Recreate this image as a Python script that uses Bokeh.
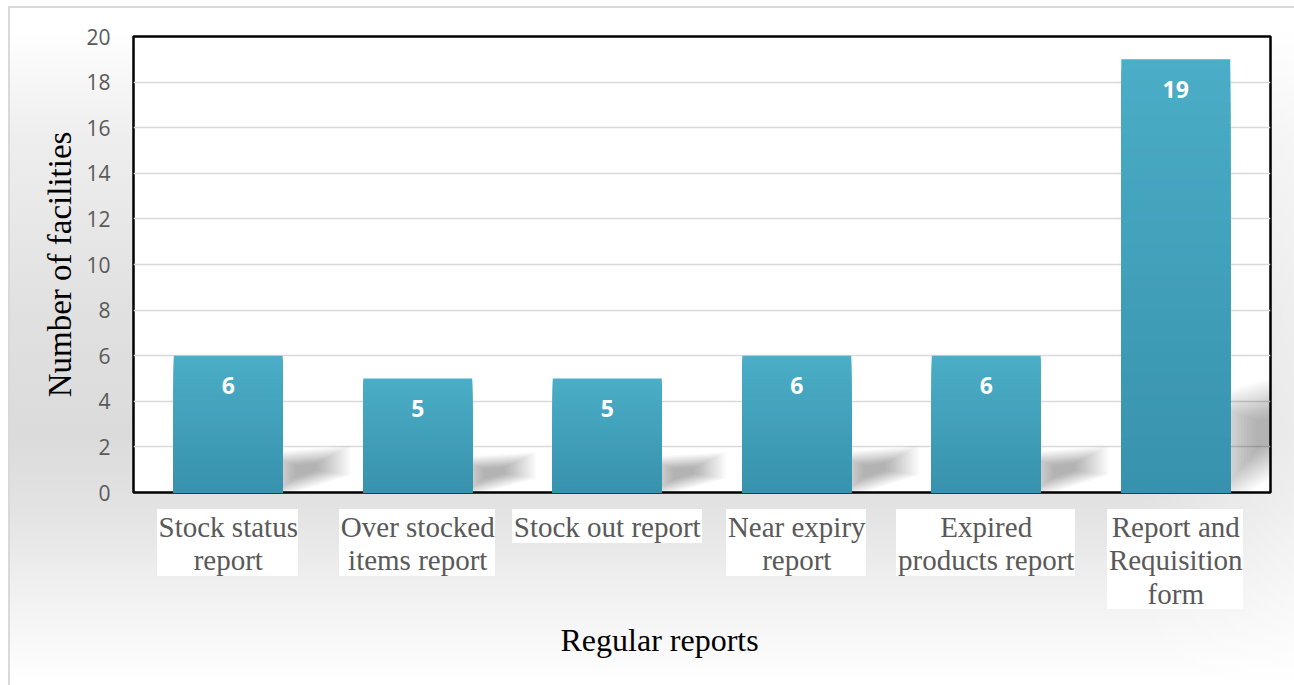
import numpy as np
from bokeh.plotting import figure
from bokeh.models import ColumnDataSource, Range1d, FixedTicker, LabelSet, Title
from bokeh.core.properties import value
from bokeh.embed import file_html
from bokeh.resources import INLINE

# ---- data -------------------------------------------------------------
categories = [
    "Stock status report",
    "Over stocked items report",
    "Stock out report",
    "Near expiry report",
    "Expired products report",
    "Report and Requisition form",
]
tick_labels = [
    "Stock status\nreport",
    "Over stocked\nitems report",
    "Stock out report",
    "Near expiry\nreport",
    "Expired\nproducts report",
    "Report and\nRequisition\nform",
]
facilities = [6, 5, 5, 6, 6, 19]
y_ticks = [0, 2, 4, 6, 8, 10, 12, 14, 16, 18, 20]

# ---- styling ----------------------------------------------------------
W, H = 1294, 685
BORDER_L, BORDER_R, BORDER_T, BORDER_B = 133, 24, 36, 193
FRAME_W = W - BORDER_L - BORDER_R
FRAME_H = H - BORDER_T - BORDER_B
BAR_WIDTH = 0.575
TOP_RGB = np.array([0x4B, 0xAD, 0xC7])
BOTTOM_RGB = np.array([0x37, 0x92, 0xAD])
N_SLICES = 40
# white panels behind the category labels (pixel widths, line height)
LABEL_BOX_W = [141, 156, 190, 140, 179, 136]
LABEL_LINE_PX = 33.5
LABEL_BOX_GAP = 17

x_pos = [i + 0.5 for i in range(len(categories))]
x_max = len(categories)
y_max = 20

# page background: thin outer border, soft grey haze, white label panels
layers = []
for xc, lab, bw in zip(x_pos, tick_labels, LABEL_BOX_W):
    n_lines = lab.count("\n") + 1
    left = BORDER_L + xc / x_max * FRAME_W - bw / 2
    top = H - BORDER_B + LABEL_BOX_GAP
    layers.append(
        "linear-gradient(#ffffff,#ffffff) %.0fpx %.0fpx / %.0fpx %.0fpx no-repeat"
        % (left, top, bw, n_lines * LABEL_LINE_PX)
    )
layers += [
    "linear-gradient(#d9d9d9,#d9d9d9) 8px 6px / 100% 2px no-repeat",
    "linear-gradient(#d9d9d9,#d9d9d9) 8px 6px / 2px 100% no-repeat",
    "linear-gradient(to left, rgba(255,255,255,0.45) 0%, rgba(255,255,255,0) 12%) "
    "10px 8px / calc(100% - 10px) calc(100% - 8px) no-repeat",
    "linear-gradient(to bottom, #ffffff 3%, #eeeeee 19%, #e1e1e1 44%, "
    "#dbdbdb 63%, #e3e3e3 74%, #efefef 85%, #fbfbfb 96%, #ffffff 100%) "
    "10px 8px / calc(100% - 10px) calc(100% - 8px) no-repeat",
    "#ffffff",
]

p = figure(
    width=W,
    height=H,
    x_range=Range1d(0, x_max),
    y_range=Range1d(0, y_max),
    output_backend="svg",
    toolbar_location=None,
    min_border_left=BORDER_L,
    min_border_right=BORDER_R,
    min_border_top=BORDER_T,
    min_border_bottom=BORDER_B,
)
p.background_fill_color = "white"
p.border_fill_alpha = 0.0
p.outline_line_color = "black"
p.outline_line_width = 2.5
p.styles = {"background": ", ".join(layers)}

# grid
p.xgrid.grid_line_color = None
p.ygrid.grid_line_color = "#d9d9d9"
p.ygrid.grid_line_width = 1.5
p.ygrid.ticker = FixedTicker(ticks=y_ticks)

# y axis
p.yaxis.ticker = FixedTicker(ticks=y_ticks)
p.yaxis.axis_line_color = None
p.yaxis.major_tick_line_color = None
p.yaxis.minor_tick_line_color = None
p.yaxis.major_label_text_font = "Open Sans"
p.yaxis.major_label_text_font_size = "21px"
p.yaxis.major_label_text_color = "#595959"
p.yaxis.major_label_standoff = 17
p.yaxis.axis_label = "Number of facilities"
p.yaxis.axis_label_text_font = "Liberation Serif"
p.yaxis.axis_label_text_font_size = "33px"
p.yaxis.axis_label_text_font_style = "normal"
p.yaxis.axis_label_text_color = "black"
p.yaxis.axis_label_standoff = 5

# x axis
p.xaxis.ticker = FixedTicker(ticks=x_pos)
p.xaxis.major_label_overrides = {x: lab for x, lab in zip(x_pos, tick_labels)}
p.xaxis.axis_line_color = None
p.xaxis.major_tick_line_color = None
p.xaxis.minor_tick_line_color = None
p.xaxis.major_label_text_font = "Liberation Serif"
p.xaxis.major_label_text_font_size = "29px"
p.xaxis.major_label_text_color = "#595959"
p.xaxis.major_label_text_line_height = 1.06
p.xaxis.major_label_standoff = 12

p.add_layout(
    Title(
        text="Regular reports",
        align="left",
        offset=427,
        text_font="Liberation Serif",
        text_font_size="32px",
        text_font_style="normal",
        text_color="black",
        standoff=12,
    ),
    "below",
)

# soft cast shadows to the right of each bar (stacked translucent layers)
shadow_xs, shadow_ys = [], []
for xc, v in zip(x_pos, facilities):
    xr = xc + BAR_WIDTH / 2
    lx = 0.016 * v + 0.19
    sx = np.array([xr - 0.04, xr - 0.04, xr + lx, xr + lx])
    sy = np.array([0.0, 0.5 + 0.17 * v, 0.25 + 0.25 * v, 0.14 * v])
    cx, cy = sx.mean(), sy.mean()
    for s in np.linspace(1.45, 0.35, 20):
        shadow_xs.append(list(cx + (sx - cx) * s))
        shadow_ys.append(list(cy + (sy - cy) * s))
p.patches(shadow_xs, shadow_ys, fill_color="black", fill_alpha=0.014, line_color=None)

# bars with a vertical colour gradient: full bar first, then shorter, darker slices
bx, btop, bcol = [], [], []
for xc, v in zip(x_pos, facilities):
    for k in range(N_SLICES):
        frac = (N_SLICES - k) / N_SLICES
        mid = frac - 0.5 / N_SLICES
        rgb = BOTTOM_RGB + (TOP_RGB - BOTTOM_RGB) * mid
        bx.append(xc)
        btop.append(v * frac)
        bcol.append("#%02x%02x%02x" % tuple(int(round(c)) for c in rgb))
p.vbar(x=bx, top=btop, bottom=0, width=BAR_WIDTH, fill_color=bcol, line_color=None)

# value labels inside the bars
label_src = ColumnDataSource(dict(x=x_pos, y=facilities, text=[str(v) for v in facilities]))
p.add_layout(
    LabelSet(
        x="x",
        y="y",
        text="text",
        source=label_src,
        y_offset=-30,
        text_align="center",
        text_baseline="middle",
        text_color="white",
        text_font=value("Open Sans"),
        text_font_style="bold",
        text_font_size="23px",
    )
)

open("out.html", "w").write(file_html(p, INLINE))
